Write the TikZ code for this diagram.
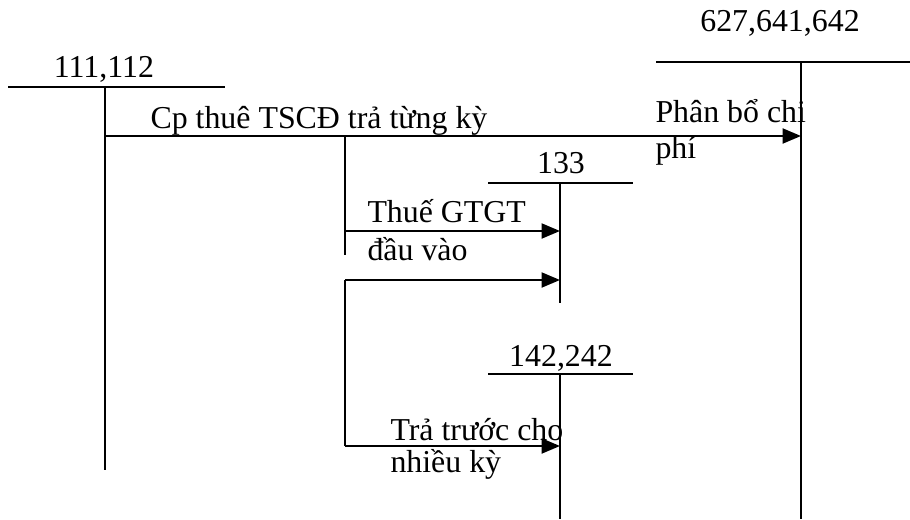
\documentclass[tikz,border=0pt]{standalone}
\usepackage{fontspec}
\setmainfont{Liberation Serif}
\usetikzlibrary{arrows.meta}

\begin{document}
\begin{tikzpicture}[
    x=0.4pt, y=-0.4pt,
    every node/.style={font=\fontsize{12.75}{15}\selectfont, inner sep=0pt},
    acc/.style={line width=0.9pt},
    e/.style={line width=0.9pt, -{Triangle[length=7.4pt, width=6pt]}},
    lbl/.style={anchor=base west},
    ttl/.style={anchor=base},
  ]
  \useasboundingbox (0,0) rectangle (910,519);
  % tai khoan chu T
  \coordinate (a1) at (105,87);
  \coordinate (a2) at (560,183);
  \coordinate (a3) at (560,374);
  \coordinate (a4) at (801,62);
  \draw[acc] (8,87) -- (225,87);
  \draw[acc] (a1) -- (105,470);
  \draw[acc] (488,183) -- (633,183);
  \draw[acc] (a2) -- (560,303);
  \draw[acc] (488,374) -- (633,374);
  \draw[acc] (a3) -- (560,519);
  \draw[acc] (656,62) -- (910,62);
  \draw[acc] (a4) -- (801,519);
  \node[ttl] (t1) at (104,78) {111,112};
  \node[ttl] (t2) at (561,173) {133};
  \node[ttl] (t3) at (561,366) {142,242};
  \node[ttl] (t4) at (780,32) {627,641,642};
  % cac but toan
  \coordinate (s1) at (105,136);
  \coordinate (b1) at (345,136);
  \coordinate (b2) at (345,255);
  \coordinate (s2) at (345,231);
  \coordinate (s3) at (345,280);
  \coordinate (b3) at (345,446);
  \draw[e] (s1) -- (a4 |- s1);
  \draw[acc] (b1) -- (b2);
  \draw[e] (s2) -- (a2 |- s2);
  \draw[acc] (b3) -- (s3);
  \draw[e] (s3) -- (a2 |- s3);
  \draw[e] (b3) -- (a3 |- b3);
  \node[lbl] (m1) at (150,128) {Cp thuê TSCĐ trả từng kỳ};
  \node[lbl] (m2) at (655,122) {Phân bổ chi};
  \node[lbl] (m3) at (655,158) {phí};
  \node[lbl] (m4) at (367,222) {Thuế GTGT};
  \node[lbl] (m5) at (367,260) {đầu vào};
  \node[lbl] (m6) at (390,440) {Trả trước cho};
  \node[lbl] (m7) at (390,472) {nhiều kỳ};
\end{tikzpicture}
\end{document}
